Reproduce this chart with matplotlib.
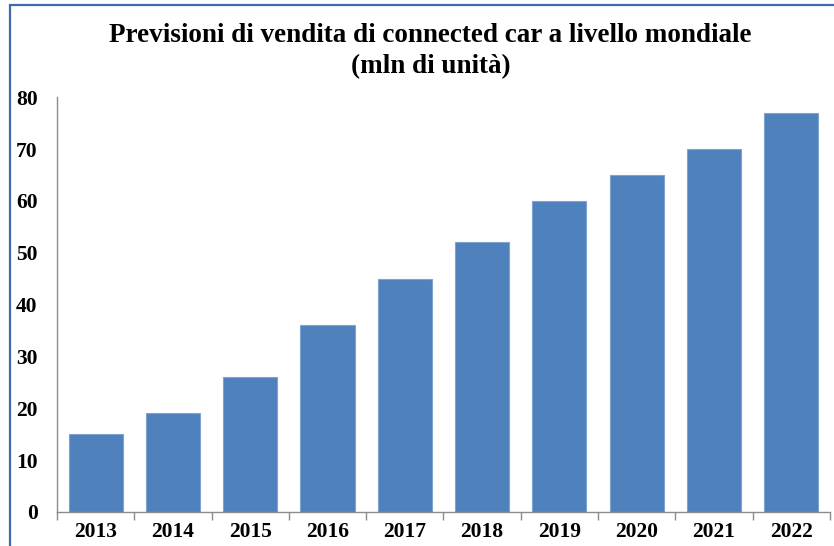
import matplotlib.pyplot as plt
import matplotlib.patches as mpatches

years = ['2013', '2014', '2015', '2016', '2017', '2018', '2019', '2020', '2021', '2022']
sales = [15, 19, 26, 36, 45, 52, 60, 65, 70, 77]

plt.rcParams['font.family'] = ['Liberation Serif', 'DejaVu Serif']

fig = plt.figure(figsize=(8.34, 5.46), dpi=100)
ax = fig.add_axes([0.0683, 0.0623, 0.9267, 0.7597])

x = list(range(len(years)))
ax.bar(x, sales, width=0.7, color='#4F81BD', edgecolor='#7FA3D3', linewidth=0.8)

ax.set_xlim(-0.5, len(years) - 0.5)
ax.set_ylim(0, 80)
ax.set_yticks(range(0, 81, 10))
ax.set_xticks(x)
ax.set_xticklabels(years)
ax.set_xticks([i - 0.5 for i in range(len(years) + 1)], minor=True)
ax.tick_params(axis='x', which='major', length=0, pad=7, labelsize=15.5)
ax.tick_params(axis='x', which='minor', length=6, width=1, color='#8c8c8c', direction='out')
ax.tick_params(axis='y', length=0, pad=14, labelsize=15.5)
for lab in ax.get_xticklabels() + ax.get_yticklabels():
    lab.set_fontweight('bold')

for s in ['top', 'right']:
    ax.spines[s].set_visible(False)
for s in ['left', 'bottom']:
    ax.spines[s].set_color('#8c8c8c')
    ax.spines[s].set_linewidth(1)

fig.text(0.516, 0.906, 'Previsioni di vendita di connected car a livello mondiale\n(mln di unità)',
         ha='center', va='center', fontsize=19.5, fontweight='bold', linespacing=1.3)

# frame around the chart, running off the right and bottom edges
border = mpatches.Rectangle((10 / 834, -0.1), 1.2, 1.1 - 5 / 546, transform=fig.transFigure,
                            fill=False, edgecolor='#3F6CA8', linewidth=1.6)
fig.patches.append(border)

fig.savefig('out.png', dpi=100)
